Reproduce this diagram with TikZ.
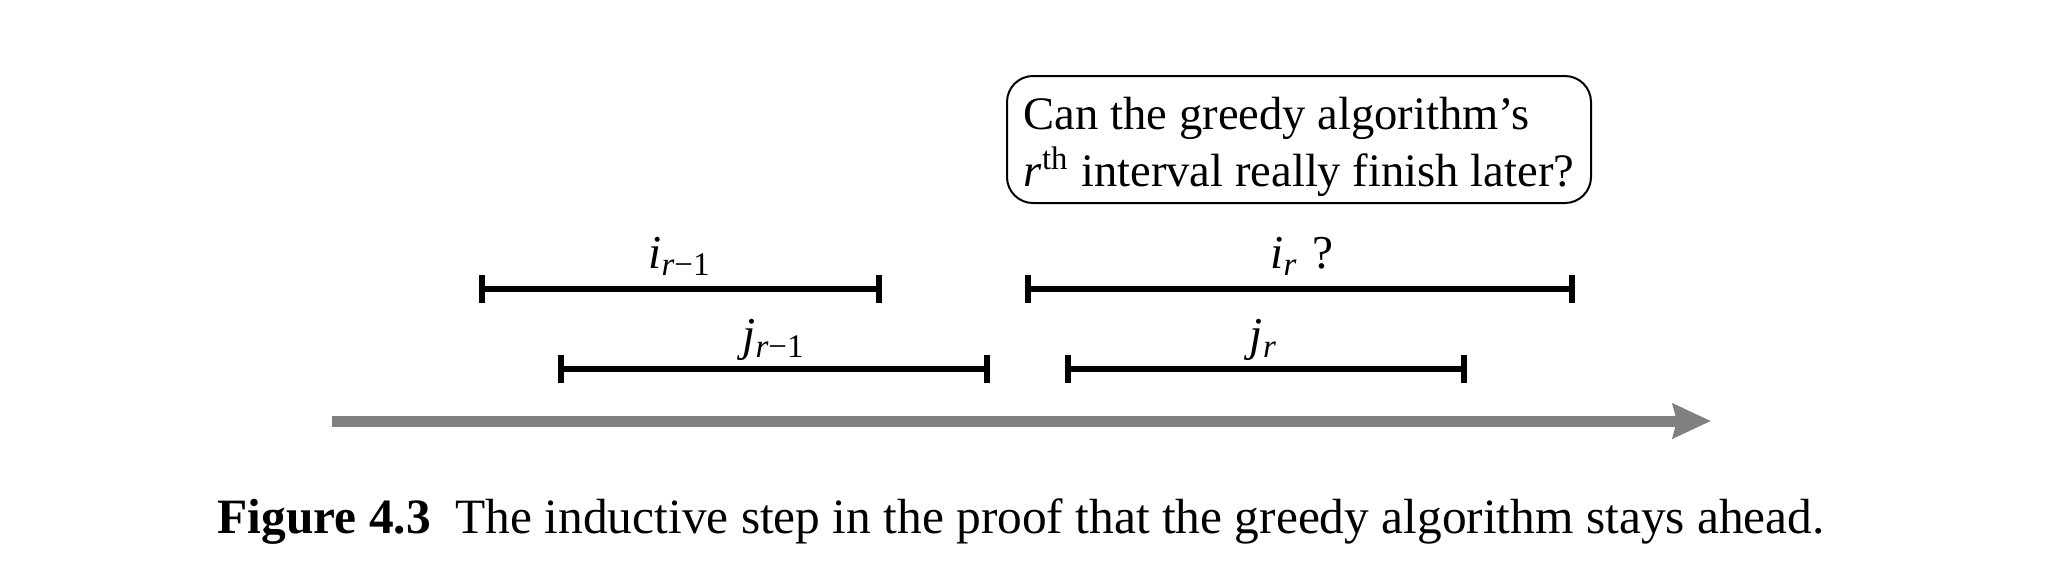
\documentclass[tikz,border=0pt]{standalone}
\usepackage{fontspec}
\setmainfont{Liberation Serif}
\usetikzlibrary{arrows.meta}
\begin{document}
\begin{tikzpicture}[x=0.25pt,y=-0.25pt,
  txt/.style={font=\fontsize{11.8}{14}\selectfont, inner sep=0pt},
  captxt/.style={font=\fontsize{12.35}{14}\selectfont, inner sep=0pt},
  interval/.style={line width=1.45pt, {Bar[width=6.8pt]}-{Bar[width=6.8pt]}},
  timeline/.style={line width=2.75pt, gray, -{Stealth[length=9.5pt,width=8.5pt,inset=1pt]}},
  question/.style={draw, line width=0.5pt, rounded corners=6.5pt,
    minimum width=146pt, minimum height=31.75pt, inner sep=0pt,
    font=\fontsize{11.65}{14.3}\selectfont}]
\useasboundingbox (0,0) rectangle (2050,582);
% question box
\node[question] (box) at (1299,139.5) {\raisebox{-1.8pt}[\height][\depth]{\begin{tabular}{@{}l@{}}Can the greedy algorithm’s\\\textit{r}\textsuperscript{th} interval really finish later?\end{tabular}}};
% intervals
\coordinate (ia) at (479,289); \coordinate (ib) at (882,289);
\coordinate (ja) at (558,369); \coordinate (jb) at (990,369);
\coordinate (ka) at (1025,289); \coordinate (kb) at (1575,289);
\coordinate (la) at (1065,369); \coordinate (lb) at (1467,369);
\draw[interval] (ia) -- (ib);
\draw[interval] (ja) -- (jb);
\draw[interval] (ka) -- (kb);
\draw[interval] (la) -- (lb);
\node[txt, anchor=base] (li) at (680,268) {\textit{i}\textsubscript{\textit{r}−1}};
\node[txt, anchor=base] (lj) at (774,350) {\textit{j}\textsubscript{\textit{r}−1}};
\node[txt, anchor=base] (lk) at (1302,268) {\textit{i}\textsubscript{\textit{r}}\hspace{0.3em}?};
\node[txt, anchor=base] (ll) at (1264,350) {\textit{j}\textsubscript{\textit{r}}};
% time axis
\coordinate (ta) at (332,421); \coordinate (tb) at (1711,421);
\draw[timeline] (ta) -- (tb);
% caption
\node[captxt, anchor=base west] (cap) at (217,533) {\textbf{Figure 4.3}\hspace{0.5em}The inductive step in the proof that the greedy algorithm stays ahead.};
\end{tikzpicture}
\end{document}
